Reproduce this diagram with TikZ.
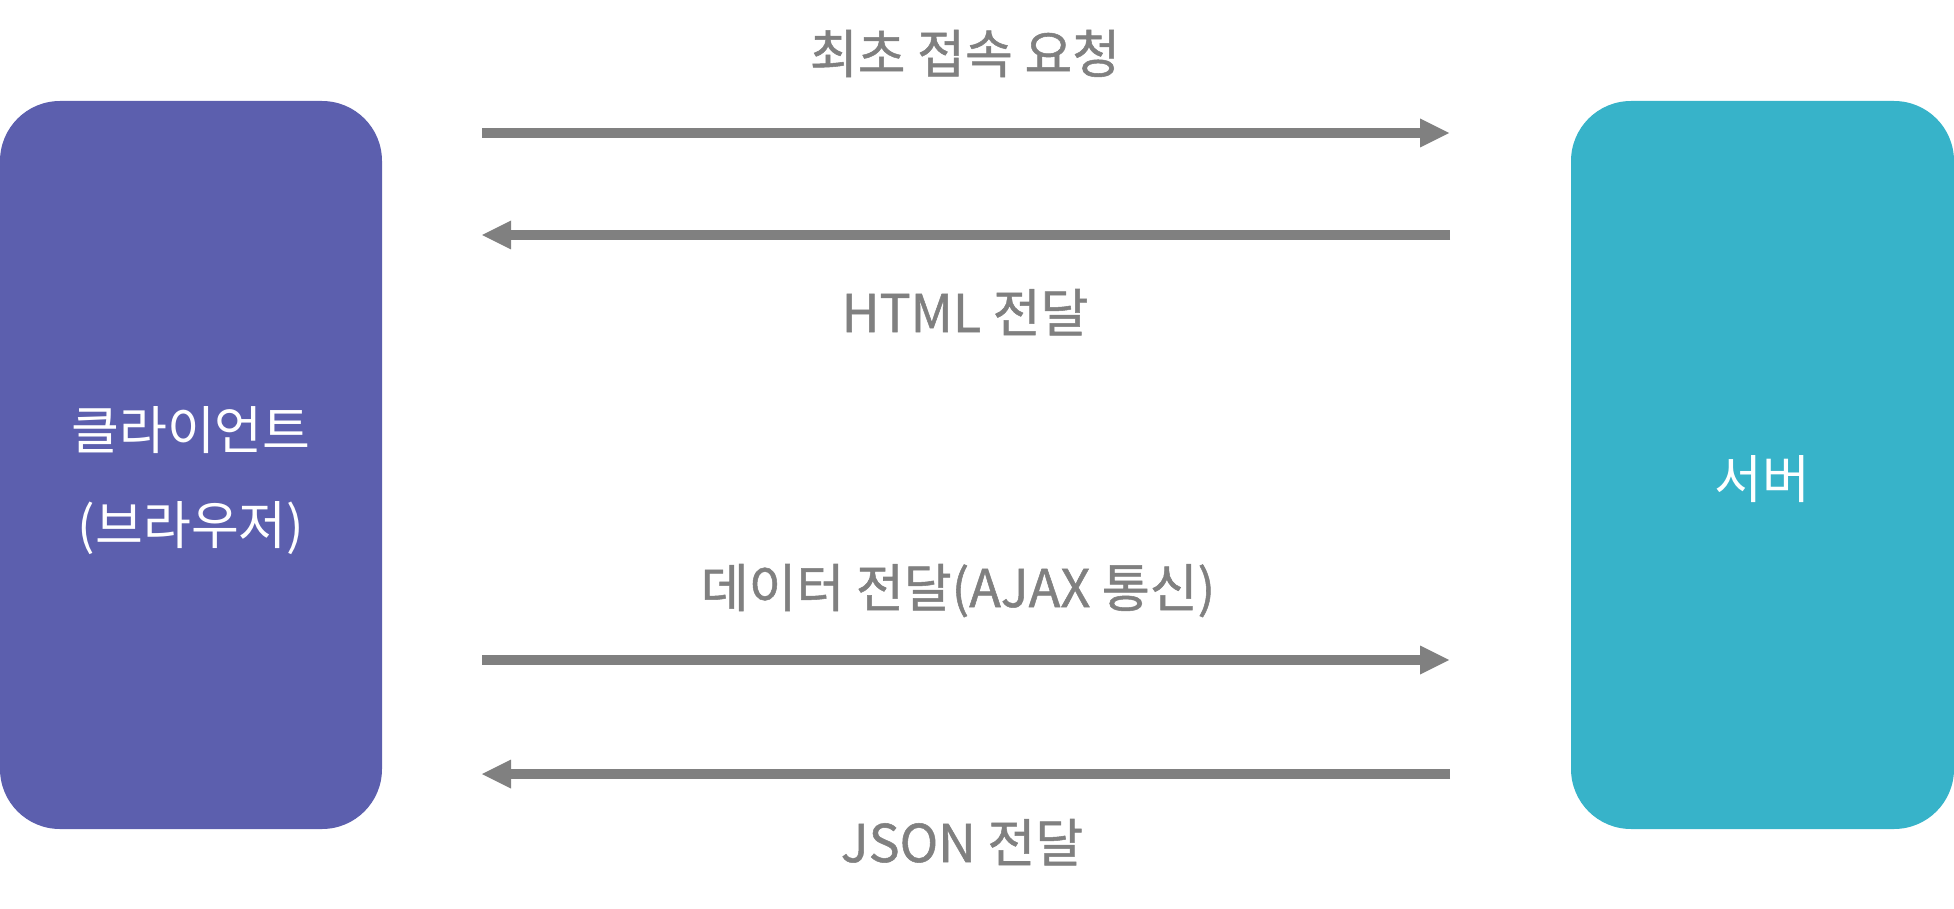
\documentclass[tikz,border=0pt]{standalone}
\usepackage{fontspec}
\setmainfont{Noto Sans CJK KR}
\newfontfamily\msgfont{Noto Sans CJK KR}[FakeBold=1]
\usetikzlibrary{arrows.meta}
\definecolor{clientc}{HTML}{5C5FAE}
\definecolor{serverc}{HTML}{37B3C9}
\definecolor{arrowc}{HTML}{808080}
\tikzset{
  boxtext/.style={text=white, font=\fontsize{52}{60}\selectfont, anchor=base, inner sep=0pt},
  msg/.style={text=arrowc, font=\msgfont\fontsize{52}{60}\selectfont, anchor=base, inner sep=0pt},
  flow/.style={draw=arrowc, line width=10pt, -{Triangle[length=29pt,width=29pt,line width=0pt,round=false]}}
}
\begin{document}
\begin{tikzpicture}[x=1pt,y=-1pt]
\useasboundingbox (0,0) rectangle (1954,909);
\fill[clientc, rounded corners=60pt] (0,101) rectangle (382,829);
\fill[serverc, rounded corners=60pt] (1571,101) rectangle (1954,829);
\node[boxtext] (client1) at (191,449) {클라이언트};
\node[boxtext] (client2) at (191,544) {(브라우저)};
\node[boxtext] (server) at (1762,498) {서버};
\coordinate (l1) at (482,133);
\coordinate (r1) at (1449,133);
\coordinate (l2) at (482,235);
\coordinate (r2) at (1450,235);
\coordinate (l3) at (482,660);
\coordinate (r3) at (1449,660);
\coordinate (l4) at (482,774);
\coordinate (r4) at (1450,774);
\draw[flow] (l1) -- (r1);
\draw[flow] (r2) -- (l2);
\draw[flow] (l3) -- (r3);
\draw[flow] (r4) -- (l4);
\node[msg] (m1) at (965,73) {최초 접속 요청};
\node[msg] (m2) at (965,332) {HTML 전달};
\node[msg] (m3) at (958,607) {데이터 전달(AJAX 통신)};
\node[msg] (m4) at (962,862) {JSON 전달};
\end{tikzpicture}
\end{document}
